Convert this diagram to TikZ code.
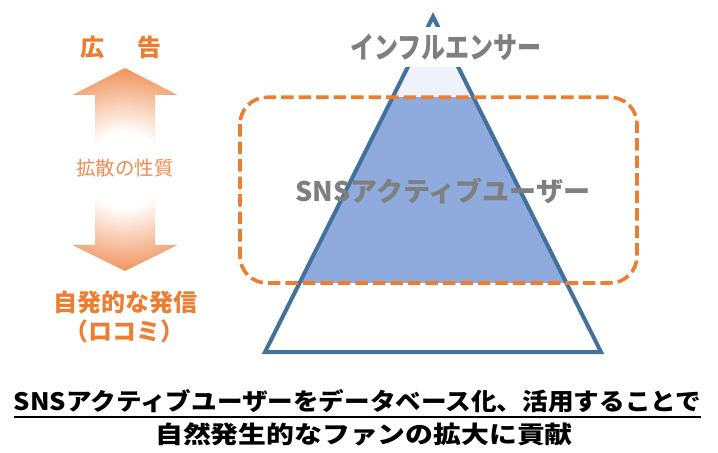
\documentclass[tikz,border=0pt]{standalone}
\usepackage{fontspec}
\setmainfont{Noto Sans CJK JP}
\usepackage{graphicx}
\usepackage{tikz}
\usetikzlibrary{calc}
\definecolor{adorange}{HTML}{ED7D31}
\definecolor{spreadorange}{HTML}{F08C4E}
\definecolor{arrowtip}{HTML}{F0965F}
\definecolor{pyblue}{HTML}{41719C}
\definecolor{userblue}{HTML}{8FAADC}
\definecolor{toppale}{HTML}{EEF2FA}
\definecolor{labelgray}{HTML}{7F7F7F}
\pgfdeclareradialshading{arrowglow}{\pgfpoint{0bp}{0bp}}{color(0bp)=(white); color(9bp)=(white); color(24bp)=(arrowtip); color(50bp)=(arrowtip)}

\begin{document}
\begin{tikzpicture}[x=1bp, y=-1bp,
	orangetext/.style={text=adorange, inner sep=0pt, font=\bfseries\fontsize{24bp}{28bp}\selectfont},
	graytext/.style={text=labelgray, inner sep=0pt, font=\bfseries\fontsize{27bp}{32bp}\selectfont},
	summary/.style={inner sep=0pt, anchor=base, font=\bfseries\fontsize{24bp}{28bp}\selectfont}]
	\useasboundingbox (0,0) rectangle (718,453);
	\coordinate (apex) at (433,16.7);
	\coordinate (baseL) at (265,352);
	\coordinate (baseR) at (601,352);
	\coordinate (userTL) at ($(apex)!0.2395!(baseL)$);
	\coordinate (userTR) at ($(apex)!0.2395!(baseR)$);
	\coordinate (userBL) at ($(apex)!0.7942!(baseL)$);
	\coordinate (userBR) at ($(apex)!0.7942!(baseR)$);
	\fill[white] (apex) -- (baseL) -- (baseR) -- cycle;
	\fill[toppale] (apex) -- (userTL) -- (userTR) -- cycle;
	\fill[userblue] (userTL) -- (userBL) -- (userBR) -- (userTR) -- cycle;
	\draw[pyblue, line width=4bp] (apex) -- (baseL) -- (baseR) -- cycle;
	\draw[adorange, line width=3.6bp, dash pattern=on 12.5bp off 5bp, rounded corners=27] (240,97.3) rectangle (637,283);
	\node[graytext, fill=white, minimum height=40bp, inner xsep=4bp] (infl) at (446,47) {\scalebox{0.89}[1.1]{インフルエンサー}};
	\node[graytext] (sns) at (443,191) {SNSアクティブユーザー};

	\node[orangetext] (ad) at (121,47) {広\hspace{33bp}告};
	\begin{scope}
		\clip (125,68) -- (177.5,95) -- (155,95) -- (155,245) -- (177.5,245) -- (125,271) -- (72.5,245) -- (95,245) -- (95,95) -- (72.5,95) -- cycle;
		\shade[shading=arrowglow] (125,170) circle [radius=105];
	\end{scope}
	\node[orangetext, text=spreadorange, font=\fontsize{19.5bp}{24bp}\selectfont] (spread) at (125,168) {拡散の性質};
	\node[orangetext] (own) at (125.5,302) {自発的な発信};
	\node[orangetext] (wom) at (124.5,331) {（ロコミ）};

	\node[summary] (goal) at (357.5,410.5) {\scalebox{1.067}[1]{SNSアクティブユーザーをデータベース化、活用することで}};
	\draw[line width=1.5] ($(goal.base west)+(0,6.5)$) -- ($(goal.base east)+(0,6.5)$);
	\node[summary] (result) at (364,443.5) {\scalebox{1.16}[1]{自然発生的なファンの拡大に貢献}};
\end{tikzpicture}
\end{document}
